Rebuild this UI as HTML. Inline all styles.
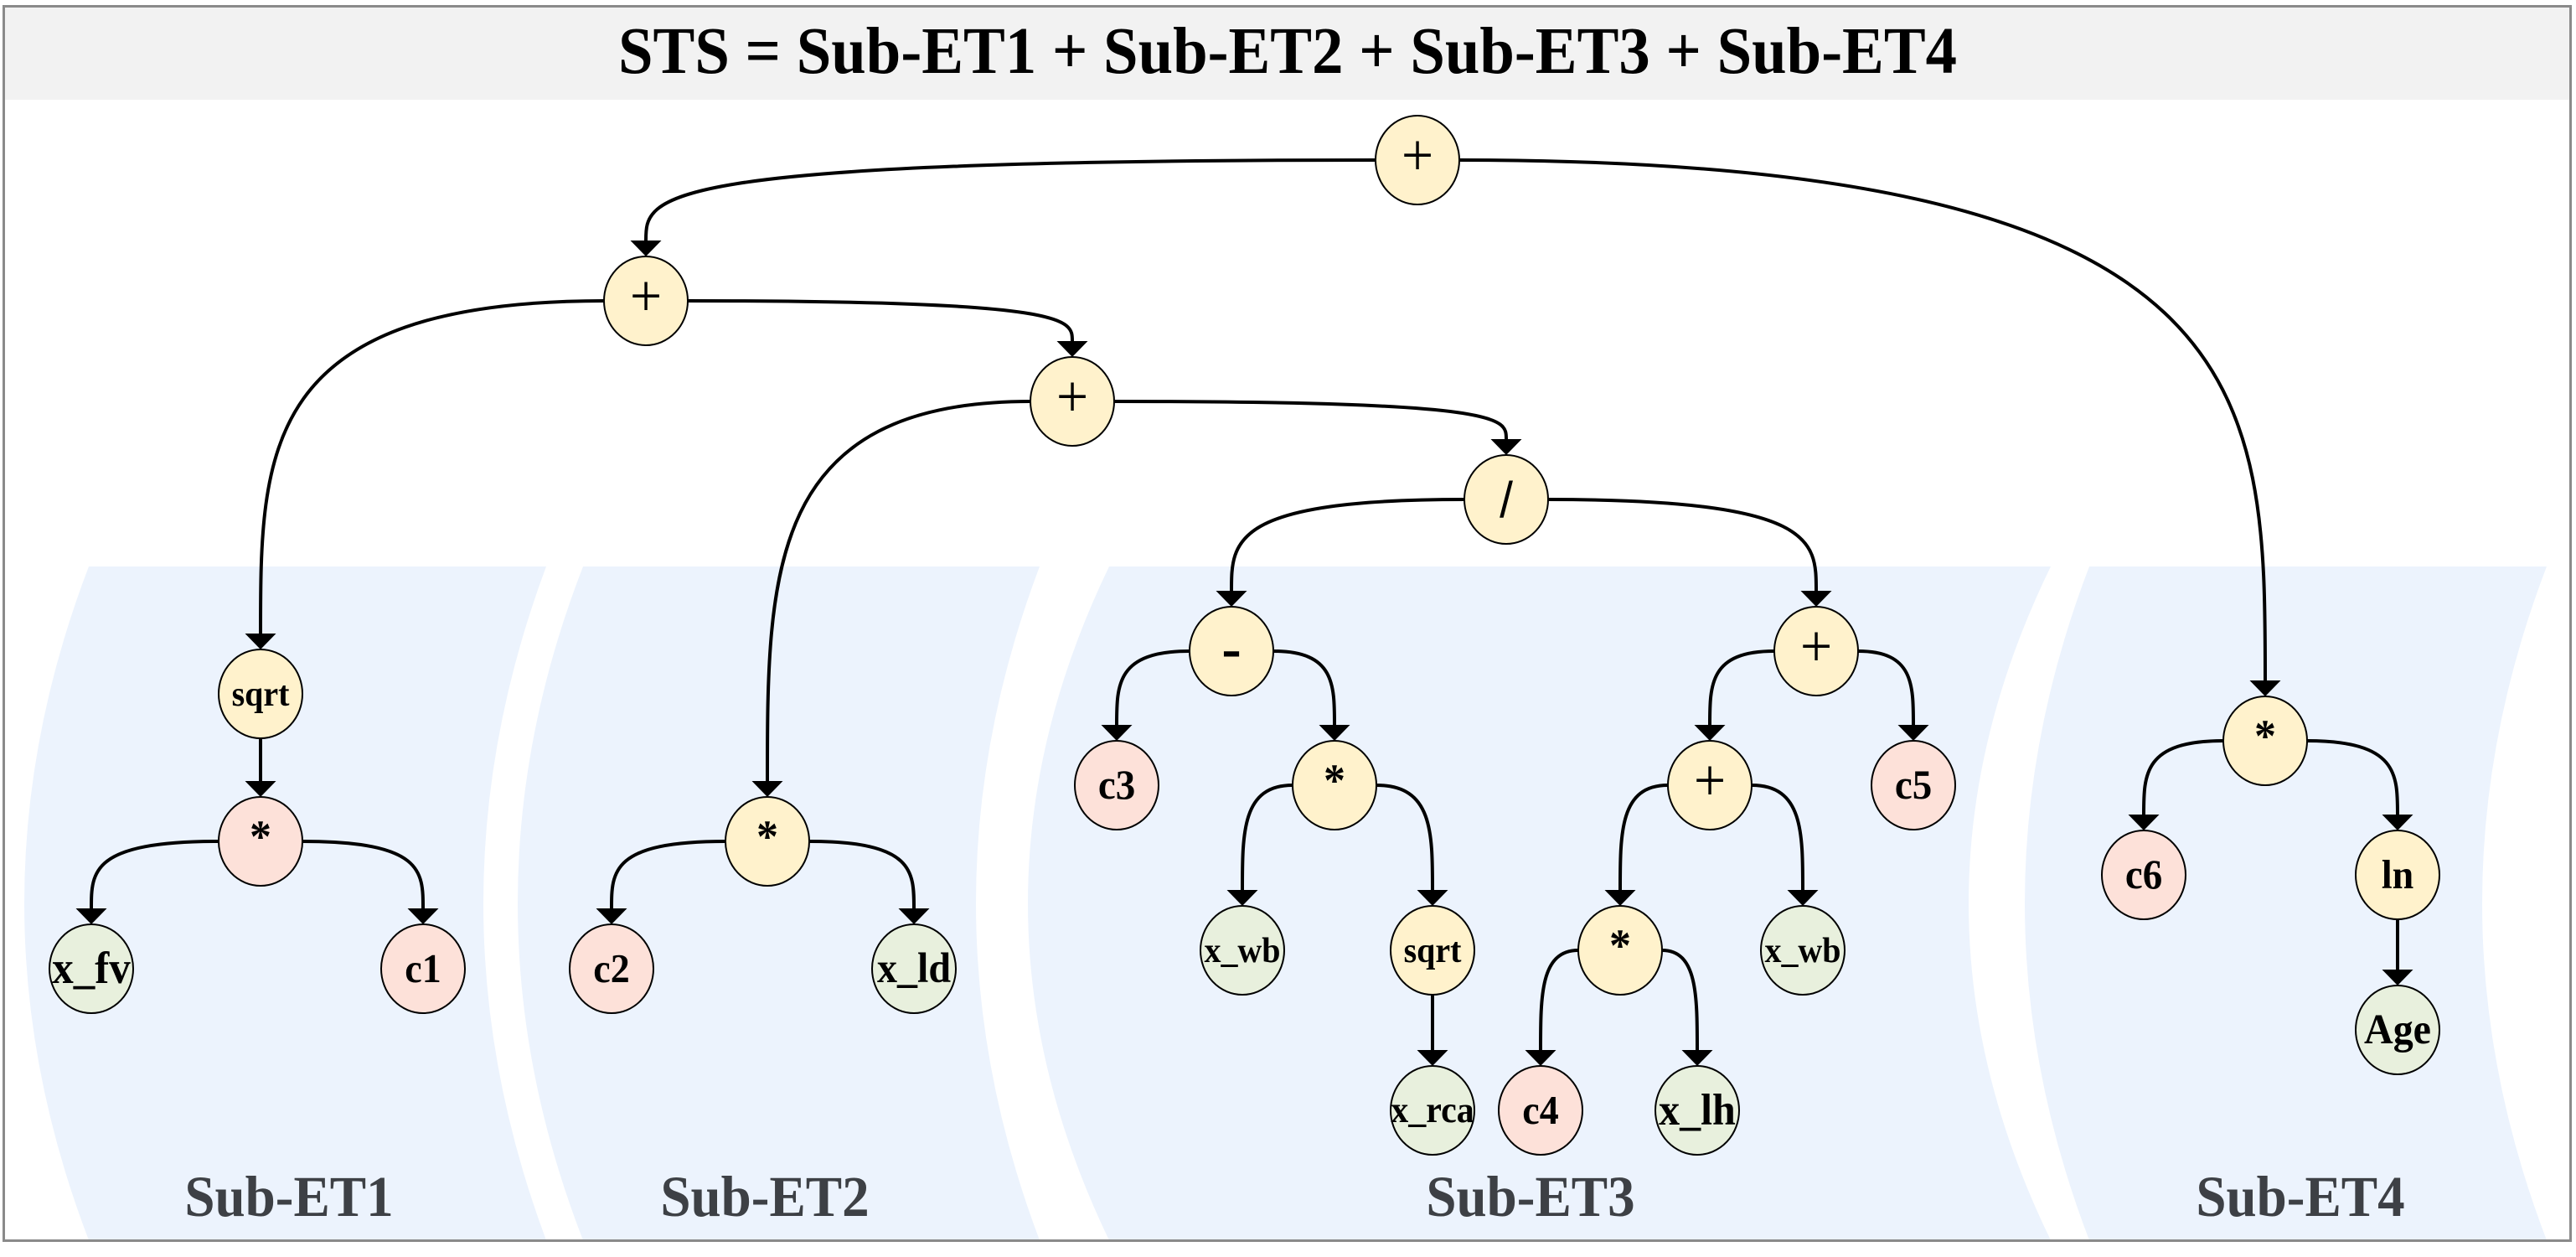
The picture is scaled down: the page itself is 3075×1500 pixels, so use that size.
<!DOCTYPE html>
<html>
<head>
<meta charset="utf-8">
<style>
html,body{margin:0;padding:0;background:#fff;}
svg{display:block;}
.e{fill:none;stroke:#000;stroke-width:4;}
.a{fill:#000;stroke:none;}
.y{fill:#fff2cc;stroke:#000;stroke-width:2;}
.p{fill:#fde1d9;stroke:#000;stroke-width:2;}
.g{fill:#e8f0dd;stroke:#000;stroke-width:2;}
.t{font-family:"Liberation Serif","Times New Roman",serif;font-weight:bold;fill:#000;text-anchor:middle;}
.o{font-family:"Liberation Serif","Times New Roman",serif;font-weight:normal;fill:#000;text-anchor:middle;}
.s{font-family:"Liberation Sans",Arial,sans-serif;font-weight:normal;fill:#000;text-anchor:middle;}
.lab{font-family:"Liberation Serif","Times New Roman",serif;font-weight:bold;fill:#3d4045;text-anchor:middle;}
</style>
</head>
<body>
<svg width="3075" height="1500" viewBox="0 0 3075 1500" xmlns="http://www.w3.org/2000/svg">
<rect x="0" y="0" width="3075" height="1500" fill="#fff"/>
<!-- title bar -->
<rect x="5" y="8" width="3063" height="111" fill="#f2f2f2"/>
<g transform="translate(1537,87) scale(1,1.06)">
<text class="t" x="0" y="0" font-size="75" textLength="1598" lengthAdjust="spacingAndGlyphs">STS = Sub-ET1 + Sub-ET2 + Sub-ET3 + Sub-ET4</text>
</g>

<!-- panels -->
<g fill="#ecf3fd">
<path d="M106,676 L652,676 Q502,1078 652,1480 L106,1480 Q-48,1078 106,676 Z"/>
<path d="M696,676 L1241,676 Q1089,1078 1241,1480 L696,1480 Q540,1078 696,676 Z"/>
<path d="M1324,676 L2448,676 Q2252,1078 2448,1480 L1324,1480 Q1130,1078 1324,676 Z"/>
<path d="M2494,676 L3040,676 Q2886,1078 3040,1480 L2494,1480 Q2340,1078 2494,676 Z"/>
</g>

<!-- panel labels -->
<g transform="translate(345,1451) scale(1,1.06)"><text class="lab" x="0" y="0" font-size="65">Sub-ET1</text></g>
<g transform="translate(913,1451) scale(1,1.06)"><text class="lab" x="0" y="0" font-size="65">Sub-ET2</text></g>
<g transform="translate(1827,1451) scale(1,1.06)"><text class="lab" x="0" y="0" font-size="65">Sub-ET3</text></g>
<g transform="translate(2746,1451) scale(1,1.06)"><text class="lab" x="0" y="0" font-size="65">Sub-ET4</text></g>

<!-- edges -->
<path class="e" d="M1642,191 C771,191 771,234 771,287"/>
<path class="a" d="M752.5,287 L789.5,287 L771,306 Z"/>
<path class="e" d="M1742,191 C2704,191 2704,470 2704,812"/>
<path class="a" d="M2685.5,812 L2722.5,812 L2704,831 Z"/>
<path class="e" d="M721,359 C311,359 311,538 311,756"/>
<path class="a" d="M292.5,756 L329.5,756 L311,775 Z"/>
<path class="e" d="M821,359 C1280,359 1280,381 1280,407"/>
<path class="a" d="M1261.5,407 L1298.5,407 L1280,426 Z"/>
<path class="e" d="M1230,479 C916,479 916,683 916,932"/>
<path class="a" d="M897.5,932 L934.5,932 L916,951 Z"/>
<path class="e" d="M1330,479 C1798,479 1798,499 1798,524"/>
<path class="a" d="M1779.5,524 L1816.5,524 L1798,543 Z"/>
<path class="e" d="M1748,596 C1470,596 1470,645 1470,705"/>
<path class="a" d="M1451.5,705 L1488.5,705 L1470,724 Z"/>
<path class="e" d="M1848,596 C2168,596 2168,645 2168,705"/>
<path class="a" d="M2149.5,705 L2186.5,705 L2168,724 Z"/>
<path class="e" d="M1420,777 C1333,777 1333,817 1333,865"/>
<path class="a" d="M1314.5,865 L1351.5,865 L1333,884 Z"/>
<path class="e" d="M1520,777 C1593,777 1593,817 1593,865"/>
<path class="a" d="M1574.5,865 L1611.5,865 L1593,884 Z"/>
<path class="e" d="M1543,937 C1483,937 1483,993 1483,1062"/>
<path class="a" d="M1464.5,1062 L1501.5,1062 L1483,1081 Z"/>
<path class="e" d="M1643,937 C1710,937 1710,993 1710,1062"/>
<path class="a" d="M1691.5,1062 L1728.5,1062 L1710,1081 Z"/>
<path class="e" d="M1710,1187 L1710,1253"/>
<path class="a" d="M1691.5,1253 L1728.5,1253 L1710,1272 Z"/>
<path class="e" d="M2118,777 C2041,777 2041,817 2041,865"/>
<path class="a" d="M2022.5,865 L2059.5,865 L2041,884 Z"/>
<path class="e" d="M2218,777 C2284,777 2284,817 2284,865"/>
<path class="a" d="M2265.5,865 L2302.5,865 L2284,884 Z"/>
<path class="e" d="M1991,937 C1934,937 1934,993 1934,1062"/>
<path class="a" d="M1915.5,1062 L1952.5,1062 L1934,1081 Z"/>
<path class="e" d="M2091,937 C2152,937 2152,993 2152,1062"/>
<path class="a" d="M2133.5,1062 L2170.5,1062 L2152,1081 Z"/>
<path class="e" d="M1884,1134 C1839,1134 1839,1188 1839,1253"/>
<path class="a" d="M1820.5,1253 L1857.5,1253 L1839,1272 Z"/>
<path class="e" d="M1984,1134 C2026,1134 2026,1188 2026,1253"/>
<path class="a" d="M2007.5,1253 L2044.5,1253 L2026,1272 Z"/>
<path class="e" d="M2654,884 C2559,884 2559,924 2559,972"/>
<path class="a" d="M2540.5,972 L2577.5,972 L2559,991 Z"/>
<path class="e" d="M2754,884 C2862,884 2862,924 2862,972"/>
<path class="a" d="M2843.5,972 L2880.5,972 L2862,991 Z"/>
<path class="e" d="M2862,1097 L2862,1157"/>
<path class="a" d="M2843.5,1157 L2880.5,1157 L2862,1176 Z"/>
<path class="e" d="M311,881 L311,932"/>
<path class="a" d="M292.5,932 L329.5,932 L311,951 Z"/>
<path class="e" d="M261,1004 C109,1004 109,1040 109,1084"/>
<path class="a" d="M90.5,1084 L127.5,1084 L109,1103 Z"/>
<path class="e" d="M361,1004 C505,1004 505,1040 505,1084"/>
<path class="a" d="M486.5,1084 L523.5,1084 L505,1103 Z"/>
<path class="e" d="M866,1004 C730,1004 730,1040 730,1084"/>
<path class="a" d="M711.5,1084 L748.5,1084 L730,1103 Z"/>
<path class="e" d="M966,1004 C1091,1004 1091,1040 1091,1084"/>
<path class="a" d="M1072.5,1084 L1109.5,1084 L1091,1103 Z"/>

<!-- nodes -->
<ellipse class="y" cx="1692" cy="191" rx="50" ry="53"/>
<ellipse class="y" cx="771" cy="359" rx="50" ry="53"/>
<ellipse class="y" cx="1280" cy="479" rx="50" ry="53"/>
<ellipse class="y" cx="1798" cy="596" rx="50" ry="53"/>
<ellipse class="y" cx="1470" cy="777" rx="50" ry="53"/>
<ellipse class="y" cx="2168" cy="777" rx="50" ry="53"/>
<ellipse class="y" cx="311" cy="828" rx="50" ry="53"/>
<ellipse class="y" cx="2704" cy="884" rx="50" ry="53"/>
<ellipse class="p" cx="1333" cy="937" rx="50" ry="53"/>
<ellipse class="y" cx="1593" cy="937" rx="50" ry="53"/>
<ellipse class="y" cx="2041" cy="937" rx="50" ry="53"/>
<ellipse class="p" cx="2284" cy="937" rx="50" ry="53"/>
<ellipse class="p" cx="311" cy="1004" rx="50" ry="53"/>
<ellipse class="y" cx="916" cy="1004" rx="50" ry="53"/>
<ellipse class="p" cx="2559" cy="1044" rx="50" ry="53"/>
<ellipse class="y" cx="2862" cy="1044" rx="50" ry="53"/>
<ellipse class="g" cx="1483" cy="1134" rx="50" ry="53"/>
<ellipse class="y" cx="1710" cy="1134" rx="50" ry="53"/>
<ellipse class="y" cx="1934" cy="1134" rx="50" ry="53"/>
<ellipse class="g" cx="2152" cy="1134" rx="50" ry="53"/>
<ellipse class="g" cx="109" cy="1156" rx="50" ry="53"/>
<ellipse class="p" cx="505" cy="1156" rx="50" ry="53"/>
<ellipse class="p" cx="730" cy="1156" rx="50" ry="53"/>
<ellipse class="g" cx="1091" cy="1156" rx="50" ry="53"/>
<ellipse class="g" cx="2862" cy="1229" rx="50" ry="53"/>
<ellipse class="g" cx="1710" cy="1325" rx="50" ry="53"/>
<ellipse class="p" cx="1839" cy="1325" rx="50" ry="53"/>
<ellipse class="g" cx="2026" cy="1325" rx="50" ry="53"/>

<!-- node labels -->
<g transform="translate(1692,191) scale(1,1.06)"><text class="o" x="0" y="17" font-size="68">+</text></g>
<g transform="translate(771,359) scale(1,1.06)"><text class="o" x="0" y="17" font-size="68">+</text></g>
<g transform="translate(1280,479) scale(1,1.06)"><text class="o" x="0" y="17" font-size="68">+</text></g>
<g transform="translate(1798,596) scale(1,1.06)"><text class="s" x="0" y="20" font-size="57">/</text></g>
<g transform="translate(1470,777) scale(1,1.06)"><text class="t" x="0" y="20" font-size="70">-</text></g>
<g transform="translate(2168,777) scale(1,1.06)"><text class="o" x="0" y="17" font-size="68">+</text></g>
<g transform="translate(311,828) scale(1,1.06)"><text class="t" x="0" y="13" font-size="40">sqrt</text></g>
<g transform="translate(2704,884) scale(1,1.06)"><text class="t" x="0" y="12" font-size="52">*</text></g>
<g transform="translate(1333,937) scale(1,1.06)"><text class="t" x="0" y="15" font-size="47">c3</text></g>
<g transform="translate(1593,937) scale(1,1.06)"><text class="t" x="0" y="12" font-size="52">*</text></g>
<g transform="translate(2041,937) scale(1,1.06)"><text class="o" x="0" y="17" font-size="68">+</text></g>
<g transform="translate(2284,937) scale(1,1.06)"><text class="t" x="0" y="15" font-size="47">c5</text></g>
<g transform="translate(311,1004) scale(1,1.06)"><text class="t" x="0" y="12" font-size="52">*</text></g>
<g transform="translate(916,1004) scale(1,1.06)"><text class="t" x="0" y="12" font-size="52">*</text></g>
<g transform="translate(2559,1044) scale(1,1.06)"><text class="t" x="0" y="15" font-size="47">c6</text></g>
<g transform="translate(2862,1044) scale(1,1.06)"><text class="t" x="0" y="15" font-size="46">ln</text></g>
<g transform="translate(1483,1134) scale(1,1.06)"><text class="t" x="0" y="13" font-size="40">x_wb</text></g>
<g transform="translate(1710,1134) scale(1,1.06)"><text class="t" x="0" y="13" font-size="40">sqrt</text></g>
<g transform="translate(1934,1134) scale(1,1.06)"><text class="t" x="0" y="12" font-size="52">*</text></g>
<g transform="translate(2152,1134) scale(1,1.06)"><text class="t" x="0" y="13" font-size="40">x_wb</text></g>
<g transform="translate(109,1156) scale(1,1.06)"><text class="t" x="0" y="16" font-size="51">x_fv</text></g>
<g transform="translate(505,1156) scale(1,1.06)"><text class="t" x="0" y="15" font-size="46">c1</text></g>
<g transform="translate(730,1156) scale(1,1.06)"><text class="t" x="0" y="15" font-size="46">c2</text></g>
<g transform="translate(1091,1156) scale(1,1.06)"><text class="t" x="0" y="15" font-size="48">x_ld</text></g>
<g transform="translate(2862,1229) scale(1,1.06)"><text class="t" x="0" y="15" font-size="48">Age</text></g>
<g transform="translate(1710,1325) scale(1,1.06)"><text class="t" x="0" y="13" font-size="42">x_rca</text></g>
<g transform="translate(1839,1325) scale(1,1.06)"><text class="t" x="0" y="15" font-size="46">c4</text></g>
<g transform="translate(2026,1325) scale(1,1.06)"><text class="t" x="0" y="16" font-size="50">x_lh</text></g>

<!-- outer frame -->
<rect x="4.5" y="7.5" width="3064" height="1473" fill="none" stroke="#8a8a8a" stroke-width="3"/>
</svg>
</body>
</html>
